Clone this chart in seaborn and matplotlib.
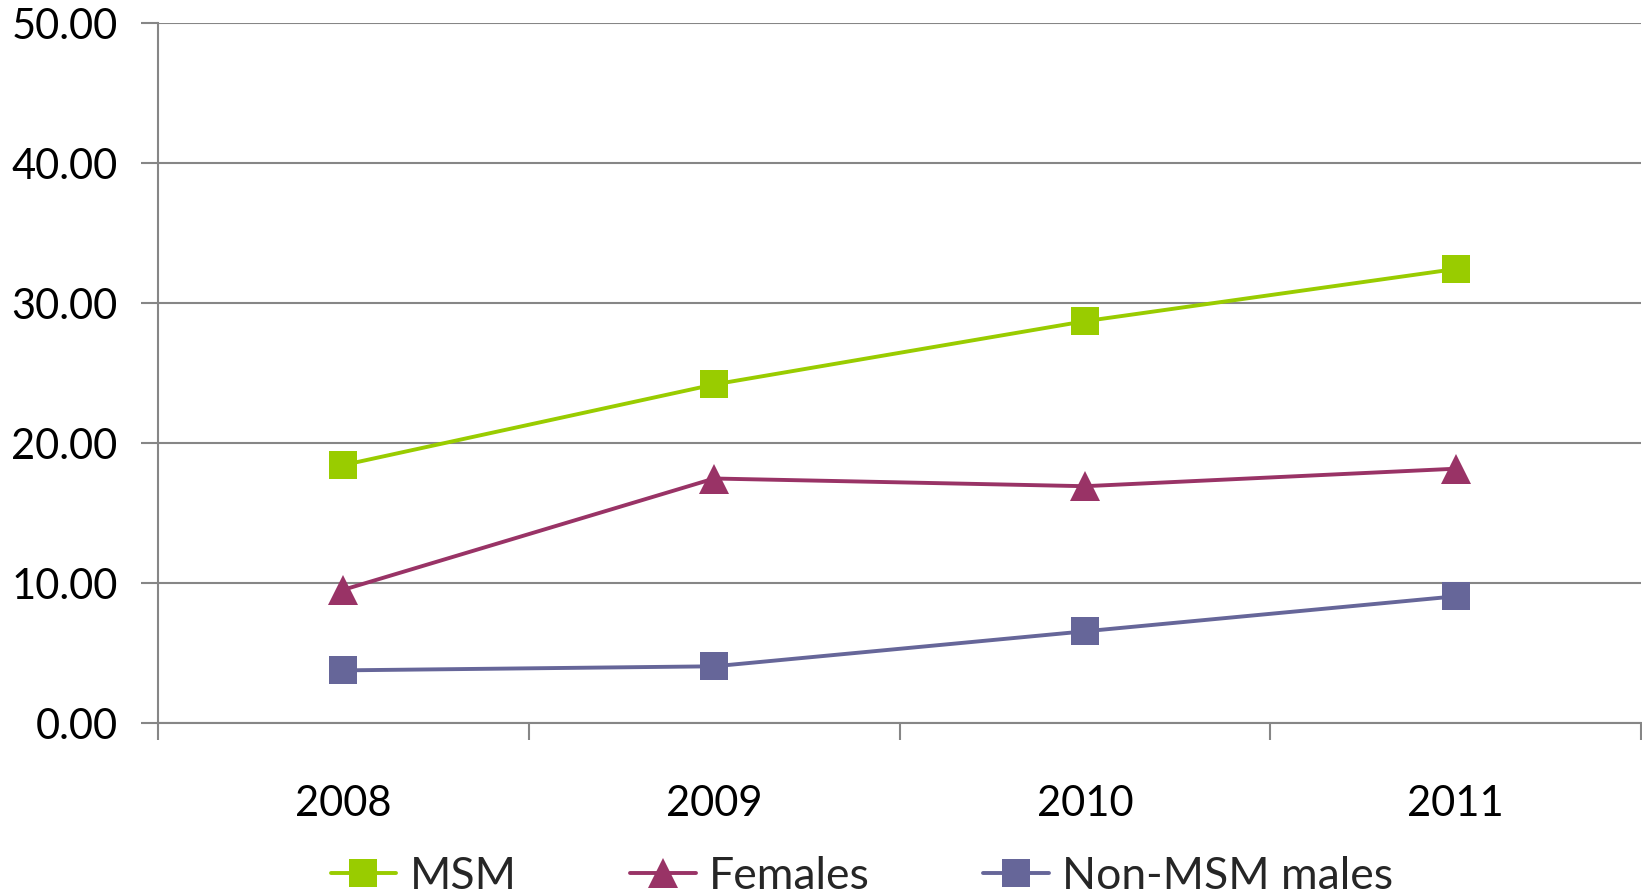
import matplotlib
matplotlib.use("Agg")
import matplotlib.pyplot as plt
from matplotlib.ticker import FixedLocator, FormatStrFormatter
import seaborn as sns
import pandas as pd

# Annual rates by group
years = [2008, 2009, 2010, 2011]
msm = [18.41, 24.17, 28.69, 32.42]
females = [9.50, 17.45, 16.90, 18.15]
non_msm_males = [3.74, 4.03, 6.53, 9.03]

groups = ["MSM", "Females", "Non-MSM males"]
colors = {"MSM": "#99CC00", "Females": "#993366", "Non-MSM males": "#666699"}
markers = {"MSM": "s", "Females": "^", "Non-MSM males": "s"}

df = pd.concat([
    pd.DataFrame({"year": years, "value": msm, "group": "MSM"}),
    pd.DataFrame({"year": years, "value": females, "group": "Females"}),
    pd.DataFrame({"year": years, "value": non_msm_males, "group": "Non-MSM males"}),
], ignore_index=True)

sns.set_theme(style="white")
plt.rcParams["font.family"] = ["Lato", "DejaVu Sans"]

grid_color = "#868686"

fig = plt.figure(figsize=(16.42, 8.95), dpi=100)
ax = fig.add_axes([158 / 1642, 1 - 723.7 / 895, (1641 - 158) / 1642, (723.7 - 24) / 895])

sns.lineplot(
    data=df, x="year", y="value", hue="group", style="group",
    hue_order=groups, style_order=groups,
    palette=colors, markers=markers, dashes=False,
    linewidth=2.8, markersize=20, markeredgewidth=0,
    ax=ax,
)
# triangles drawn slightly larger than squares
for line in ax.get_lines():
    if line.get_marker() == "^":
        line.set_markersize(22)

ax.set_xlim(years[0] - 0.5, years[-1] + 0.5)
ax.set_ylim(0, 50)
ax.set_xlabel("")
ax.set_ylabel("")

# y axis
ax.yaxis.set_major_locator(FixedLocator([0, 10, 20, 30, 40, 50]))
ax.yaxis.set_major_formatter(FormatStrFormatter("%.2f"))
ax.grid(axis="y", color=grid_color, linewidth=1.5)
ax.grid(axis="x", visible=False)
ax.tick_params(axis="y", which="major", direction="out", length=12, width=1.5,
               color=grid_color, pad=17, labelsize=30, labelcolor="black", left=True)

# x axis: labels centred on categories, tick marks between them
ax.set_xticks(years)
ax.set_xticklabels([str(y) for y in years])
ax.set_xticks([y - 0.5 for y in years] + [years[-1] + 0.5], minor=True)
ax.tick_params(axis="x", which="major", length=0, pad=44, labelsize=30, labelcolor="black")
ax.tick_params(axis="x", which="minor", direction="out", length=12, width=1.5,
               color=grid_color, bottom=True)

for side in ["top", "right"]:
    ax.spines[side].set_visible(False)
for side in ["left", "bottom"]:
    ax.spines[side].set_color(grid_color)
    ax.spines[side].set_linewidth(1.5)

handles, labels = ax.get_legend_handles_labels()
ax.get_legend().remove()
fig.legend(handles, labels, loc="center", bbox_to_anchor=(862 / 1642, 1 - 877 / 895),
           ncol=3, frameon=False, fontsize=32, handlelength=1.48, handletextpad=0.3,
           columnspacing=2.55, borderpad=0, borderaxespad=0)

fig.savefig("out.png", dpi=100)
